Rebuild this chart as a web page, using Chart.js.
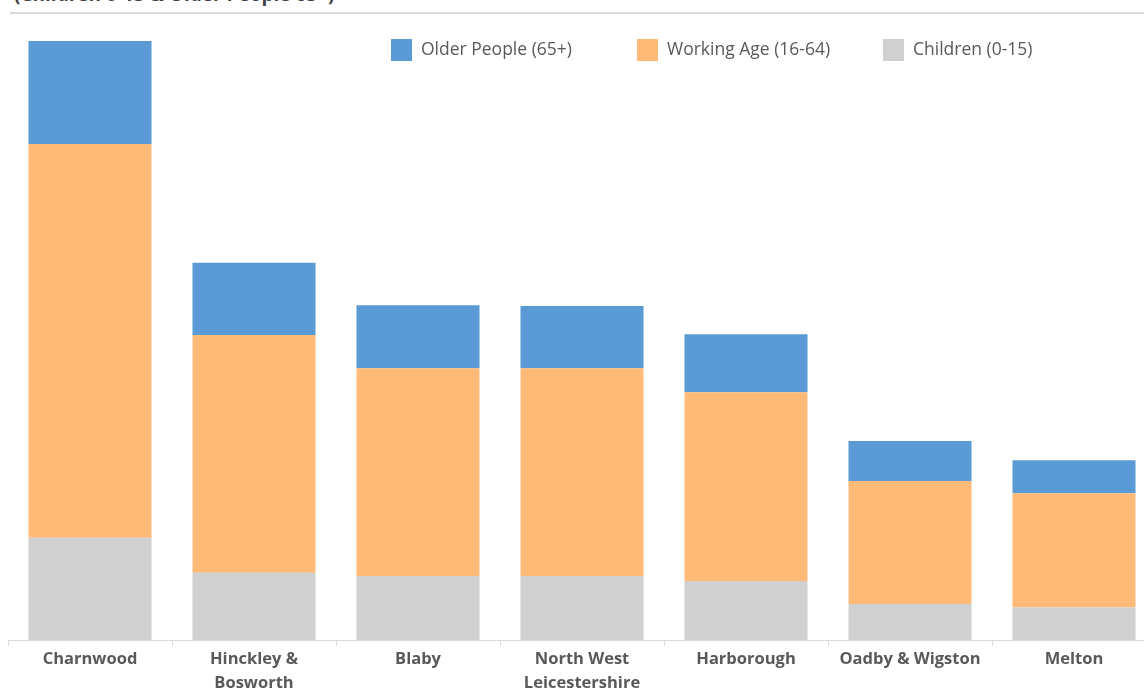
<!DOCTYPE html>
<html>
<head>
<meta charset="utf-8">
<script src="https://cdn.jsdelivr.net/npm/chart.js@4"></script>
<style>
  html, body { margin: 0; padding: 0; background: #fff; overflow: hidden; width: 1144px; height: 690px; }
  #title { position: absolute; left: 14px; top: -19px; font: bold 19px "Open Sans", sans-serif; color: #404040; white-space: nowrap; }
  #rule { position: absolute; left: 10px; top: 12px; width: 1134px; height: 2px; background: #d9d9d9; }
  #wrap { position: absolute; left: 0; top: 0; width: 1160px; height: 690px; }
</style>
</head>
<body>
<div id="title">(Children 0-15 &amp; Older People 65+)</div>
<div id="rule"></div>
<div id="wrap"><canvas id="c"></canvas></div>
<script>
const categories = [["Charnwood"], ["Hinckley &", "Bosworth"], ["Blaby"], ["North West", "Leicestershire"], ["Harborough"], ["Oadby & Wigston"], ["Melton"]];
const children = [28600, 18800, 17900, 17900, 16500, 10100, 9200];
const workingAge = [110300, 66600, 58200, 58200, 52900, 34400, 31900];
const olderPeople = [28800, 20200, 17600, 17400, 16200, 11200, 9200];
const seriesNames = ["Older People (65+)", "Working Age (16-64)", "Children (0-15)"];
const colors = { older: "#5b9bd5", working: "#ffba78", children: "#d0d0d0" };

const legendPlugin = {
  id: 'customLegend',
  afterDraw(chart) {
    const ctx = chart.ctx;
    const items = [
      { label: seriesNames[0], color: colors.older, x: 391 },
      { label: seriesNames[1], color: colors.working, x: 637 },
      { label: seriesNames[2], color: colors.children, x: 883 }
    ];
    ctx.save();
    ctx.font = '17.5px "Open Sans", sans-serif';
    ctx.textBaseline = 'middle';
    items.forEach(it => {
      ctx.fillStyle = it.color;
      ctx.fillRect(it.x, 39, 21, 22);
      ctx.fillStyle = '#595959';
      ctx.fillText(it.label, it.x + 30, 50);
    });
    ctx.restore();
  }
};

new Chart(document.getElementById('c'), {
  type: 'bar',
  data: {
    labels: categories,
    datasets: [
      { label: seriesNames[2], data: children, backgroundColor: colors.children },
      { label: seriesNames[1], data: workingAge, backgroundColor: colors.working },
      { label: seriesNames[0], data: olderPeople, backgroundColor: colors.older }
    ]
  },
  options: {
    responsive: true,
    maintainAspectRatio: false,
    animation: false,
    datasets: { bar: { categoryPercentage: 1.0, barPercentage: 0.75 } },
    layout: { padding: { left: 8, right: 4, top: 20, bottom: 0 } },
    plugins: { legend: { display: false }, tooltip: { enabled: false } },
    scales: {
      x: {
        stacked: true,
        afterFit(scale) { scale.height = 50; },
        border: { display: true, color: '#d9d9d9', width: 1 },
        grid: { display: true, drawOnChartArea: false, drawTicks: true, tickLength: 6, color: '#d9d9d9', offset: true },
        ticks: { color: '#595959', padding: 1, maxRotation: 0, autoSkip: false, font: { family: '"Open Sans", sans-serif', size: 16.5, weight: 'bold', lineHeight: 1.45 } }
      },
      y: {
        stacked: true,
        display: false,
        min: 0,
        max: 173600
      }
    }
  },
  plugins: [legendPlugin]
});
</script>
</body>
</html>
